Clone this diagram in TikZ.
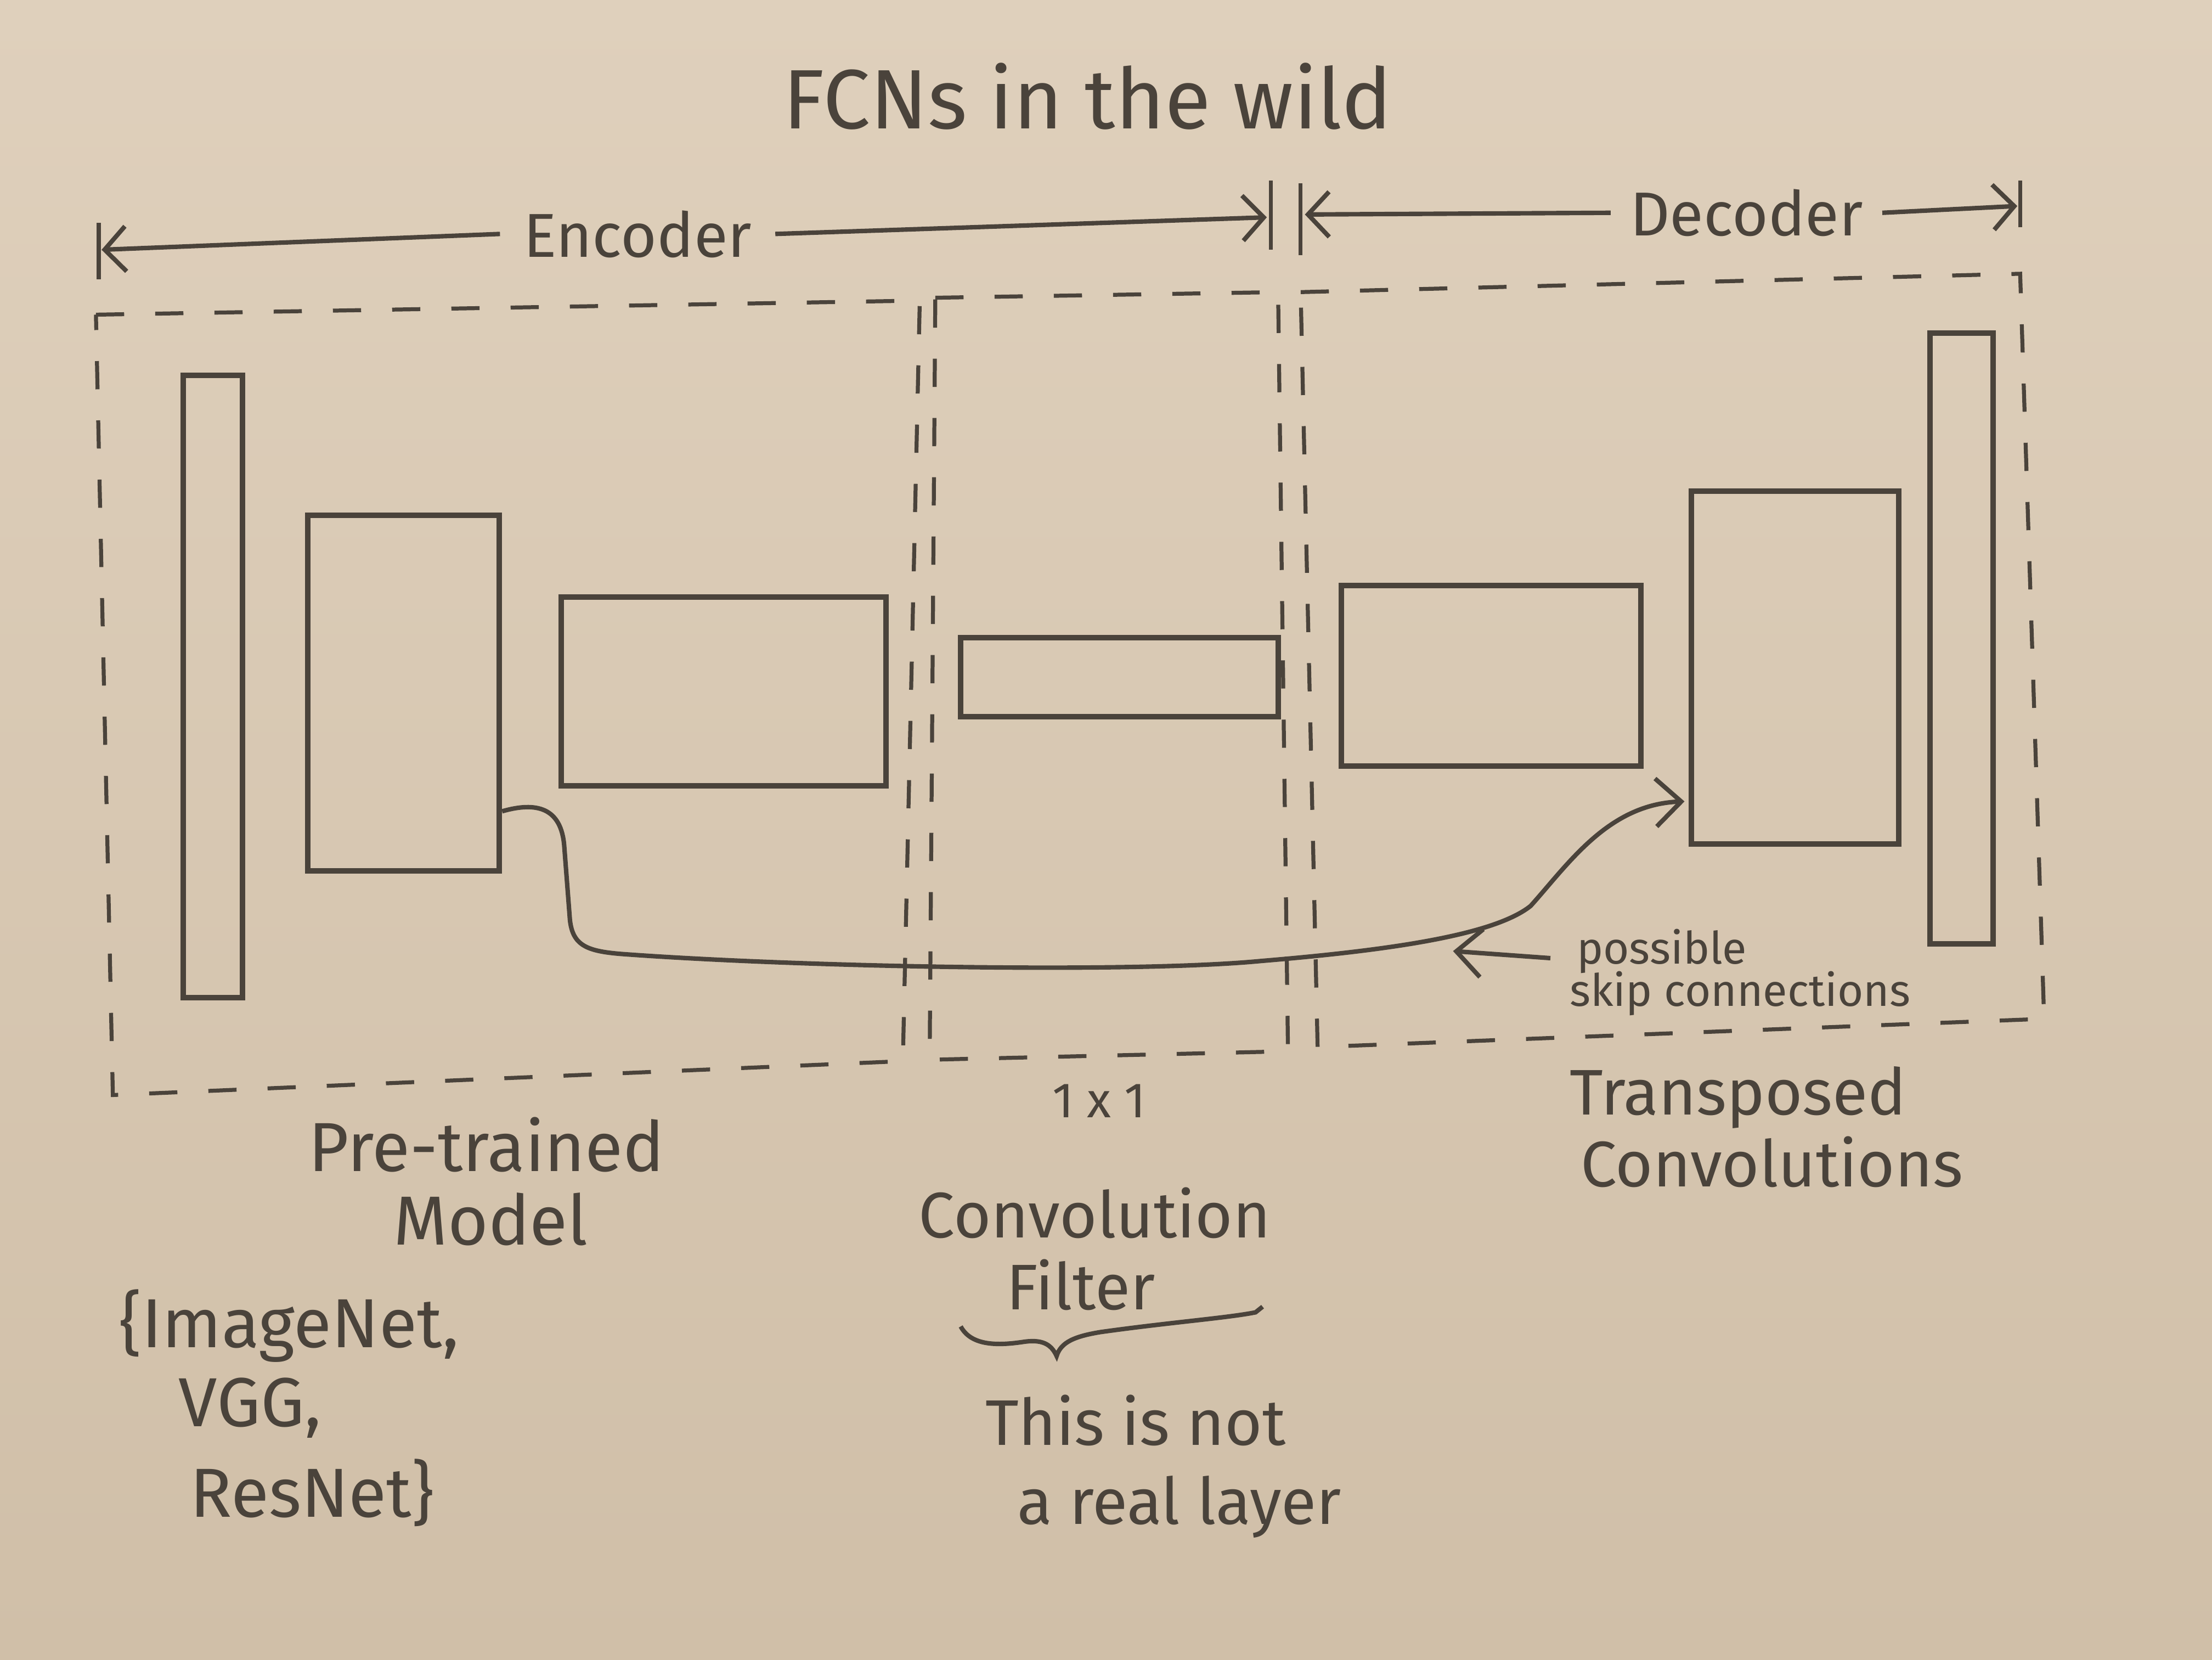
\documentclass[tikz,border=0pt]{standalone}
\usepackage{fontspec}
\setmainfont{Fira Sans}
\usetikzlibrary{arrows.meta,calc,fit}
\definecolor{paperlight}{HTML}{DFD0BC}
\definecolor{paperdark}{HTML}{D0BFA8}
\definecolor{ink}{HTML}{4A433B}
\begin{document}
\begin{tikzpicture}[x=0.1mm,y=-0.1mm,
  layer/.style={draw=ink,line width=1.1pt,inner sep=0pt},
  region/.style={draw=ink,line width=0.8pt,dash pattern=on 2mm off 2.2mm},
  tick/.style={draw=ink,line width=0.8pt},
  dim/.style={draw=ink,line width=0.9pt,-{Straight Barb[length=1.5mm,width=3.2mm]}},
  skip/.style={draw=ink,line width=0.9pt,-{Straight Barb[length=1.8mm,width=3.4mm]}},
  txt/.style={text=ink,inner sep=0pt,anchor=base},
  ltxt/.style={text=ink,inner sep=0pt,anchor=base west},
  big/.style={font=\fontsize{17}{20}\selectfont},
  mid/.style={font=\fontsize{13}{16}\selectfont},
  lab/.style={font=\fontsize{14}{16}\selectfont},
  small/.style={font=\fontsize{9}{11}\selectfont}
]
% paper
\shade[top color=paperlight,bottom color=paperdark] (0,0) rectangle (1568,1176);
\useasboundingbox (0,0) rectangle (1568,1176);

% title
\node[txt,big] (title) at (771,91) {FCNs in the wild};

% encoder / decoder dimension lines
\node[txt,font=\fontsize{12.5}{15}\selectfont,inner xsep=1.6mm] (enc) at (452,182) {Encoder};
\node[txt,font=\fontsize{12.5}{15}\selectfont,inner xsep=1.3mm] (dec) at (1238,167) {Decoder};
\coordinate (encL) at (72,177);
\coordinate (encR) at (898,154);
\coordinate (decL) at (925,152);
\coordinate (decR) at (1430,146);
\draw[tick] (70,158) -- (70,198);
\draw[tick] (901,128) -- (901,177);
\draw[tick] (922,130) -- (922,181);
\draw[tick] (1432,128) -- (1432,161);
\draw[dim] (enc.west) -- (encL);
\draw[dim] (enc.east) -- (encR);
\draw[dim] (dec.west) -- (decL);
\draw[dim] (dec.east) -- (decR);

% dashed regions
\draw[region] (68,223) -- (652,213) -- (640,752) -- (80,776) -- cycle;
\draw[region] (663,211) -- (906,207) -- (913,745) -- (659,751) -- cycle;
\draw[region] (922,207) -- (1432,194) -- (1449,722) -- (934,742) -- cycle;

% layers
\node[layer,fit={(130,266) (172,707)}] (in) {};
\node[layer,fit={(218,365) (354,617)}] (e1) {};
\node[layer,fit={(398,423) (628,557)}] (e2) {};
\node[layer,fit={(681,452) (906,508)}] (m) {};
\node[layer,fit={(951,415) (1163,543)}] (d1) {};
\node[layer,fit={(1199,348) (1346,598)}] (d2) {};
\node[layer,fit={(1368,236) (1413,669)}] (out) {};

% skip connection
\draw[skip] ($(e1.south east)+(0,-44)$) .. controls (380,568) and (398,572) .. (400,600)
  -- (404,652) .. controls (406,670) and (416,674) .. (440,676)
  .. controls (560,685) and (800,690) .. (894,681)
  .. controls (990,673) and (1060,662) .. (1085,642)
  .. controls (1112,612) and (1140,570) .. ($(d2.south west)+(-3,-32)$);

% skip label
\node[ltxt,small] (poss) at (1117,683) {possible};
\node[ltxt,small] (skipc) at (1112,713) {skip connections};
\coordinate (skiptip) at (1030,674);
\draw[skip] ($(poss.base west)+(-18,-4)$) -- (skiptip);

% bottom labels: encoder
\node[txt,lab] (pre) at (345,830) {Pre-trained};
\node[txt,lab] (model) at (348,882) {Model};
\node[ltxt,lab] (imgnet) at (84,955) {\{ImageNet,};
\node[ltxt,lab] (vgg) at (126,1011) {VGG,};
\node[ltxt,lab] (resnet) at (134,1075) {ResNet\}};

% bottom labels: middle
\node[txt,font=\fontsize{10}{12}\selectfont] (onex) at (779,792) {1 x 1};
\node[txt,mid] (conv) at (776,877) {Convolution};
\node[txt,mid] (filt) at (766,928) {Filter};
\draw[draw=ink,line width=0.9pt] (681,940) .. controls (688,953) and (705,954) .. (725,951)
  .. controls (738,949) and (745,952) .. (749,961)
  .. controls (752,951) and (762,947) .. (780,944)
  .. controls (830,937) and (870,934) .. (890,930) -- (895,926);
\node[txt,mid] (notl) at (805,1024) {This is not};
\node[txt,mid] (real) at (836,1080) {a real layer};

% bottom labels: decoder
\node[txt,mid] (trans) at (1232,790) {Transposed};
\node[txt,mid] (convs) at (1256,841) {Convolutions};
\end{tikzpicture}
\end{document}
